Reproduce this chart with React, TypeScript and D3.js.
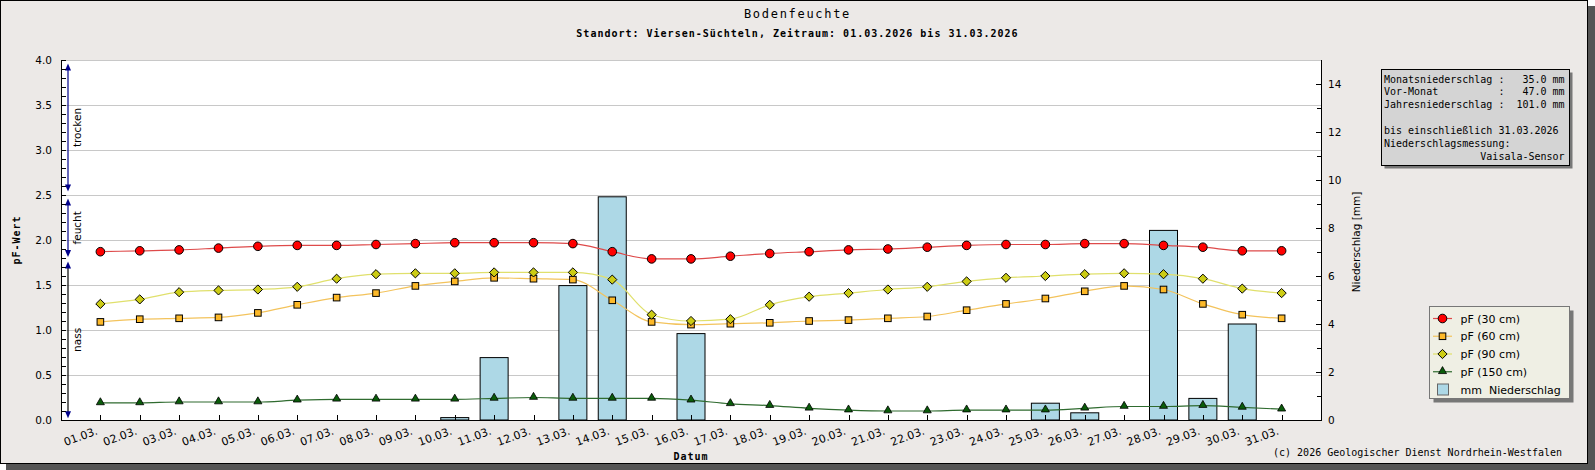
import { useMemo } from 'react'
import * as d3 from 'd3'

// Tageswerte März 2026, Standort Viersen-Süchteln
const DAYS = [
  '01.03.', '02.03.', '03.03.', '04.03.', '05.03.', '06.03.', '07.03.', '08.03.',
  '09.03.', '10.03.', '11.03.', '12.03.', '13.03.', '14.03.', '15.03.', '16.03.',
  '17.03.', '18.03.', '19.03.', '20.03.', '21.03.', '22.03.', '23.03.', '24.03.',
  '25.03.', '26.03.', '27.03.', '28.03.', '29.03.', '30.03.', '31.03.',
]

const PF_30 = [
  1.87, 1.88, 1.89, 1.91, 1.93, 1.94, 1.94, 1.95, 1.96, 1.97, 1.97, 1.97, 1.96, 1.87, 1.79, 1.79,
  1.82, 1.85, 1.87, 1.89, 1.9, 1.92, 1.94, 1.95, 1.95, 1.96, 1.96, 1.94, 1.92, 1.88, 1.88,
]
const PF_60 = [
  1.09, 1.12, 1.13, 1.14, 1.19, 1.28, 1.36, 1.41, 1.49, 1.54, 1.58, 1.57, 1.56, 1.33, 1.09, 1.06,
  1.07, 1.08, 1.1, 1.11, 1.13, 1.15, 1.22, 1.29, 1.35, 1.43, 1.49, 1.45, 1.29, 1.17, 1.13,
]
const PF_90 = [
  1.29, 1.34, 1.42, 1.44, 1.45, 1.48, 1.57, 1.62, 1.63, 1.63, 1.64, 1.64, 1.64, 1.56, 1.17, 1.1,
  1.12, 1.28, 1.37, 1.41, 1.45, 1.48, 1.54, 1.58, 1.6, 1.62, 1.63, 1.62, 1.57, 1.46, 1.41,
]
const PF_150 = [
  0.19, 0.19, 0.2, 0.2, 0.2, 0.22, 0.23, 0.23, 0.23, 0.23, 0.24, 0.25, 0.24, 0.24, 0.24, 0.22,
  0.18, 0.16, 0.13, 0.11, 0.1, 0.1, 0.11, 0.11, 0.11, 0.13, 0.15, 0.15, 0.16, 0.14, 0.12,
]
const RAIN = [
  0, 0, 0, 0, 0, 0, 0, 0, 0, 0.1, 2.6, 0, 5.6, 9.3, 0, 3.6,
  0, 0, 0, 0, 0, 0, 0, 0, 0.7, 0.3, 0, 7.9, 0.9, 4.0, 0,
]

const SERIES_NAMES = ['pF (30 cm)', 'pF (60 cm)', 'pF (90 cm)', 'pF (150 cm)']
const SERIES_VALUES = [PF_30, PF_60, PF_90, PF_150]
const RAIN_NAME = 'mm  Niederschlag'

const LEFT_TICKS = [0, 0.5, 1, 1.5, 2, 2.5, 3, 3.5, 4]
const RIGHT_TICKS = [0, 2, 4, 6, 8, 10, 12, 14]

// Bereiche am linken Rand (Pfeile)
const ZONE_NAMES = ['trocken', 'feucht', 'nass']
const ZONE_TOP = [3.96, 2.46, 1.76]
const ZONE_BOTTOM = [2.54, 1.81, 0.02]

const INFO_LINES = [
  'Monatsniederschlag :   35.0 mm',
  'Vor-Monat          :   47.0 mm',
  'Jahresniederschlag :  101.0 mm',
  '',
  'bis einschließlich 31.03.2026',
  'Niederschlagsmessung:',
  '                Vaisala-Sensor',
]

const TITLE = 'Bodenfeuchte'
const SUBTITLE = 'Standort: Viersen-Süchteln, Zeitraum: 01.03.2026 bis 31.03.2026'
const COPYRIGHT = '(c) 2026 Geologischer Dienst Nordrhein-Westfalen'

const SIZE = { width: 1595, height: 470 }
const PLOT = { left: 61, right: 1321, top: 60, bottom: 420 }

const SANS = '"DejaVu Sans", Verdana, sans-serif'
const MONO = '"DejaVu Sans Mono", monospace'

type MarkerKind = 'circle' | 'square' | 'diamond' | 'triangle'

const SERIES_STYLE: { line: string; fill: string; marker: MarkerKind }[] = [
  { line: '#de4a4a', fill: '#ff0000', marker: 'circle' },
  { line: '#f3c35c', fill: '#fdb928', marker: 'square' },
  { line: '#e0e06c', fill: '#cccc14', marker: 'diamond' },
  { line: '#2f6b2f', fill: '#0a5c0a', marker: 'triangle' },
]

const triPath = d3.symbol(d3.symbolTriangle, 28)() as string

function Marker({ x, y, kind, fill }: { x: number; y: number; kind: MarkerKind; fill: string }) {
  if (kind === 'circle') {
    return <circle cx={x} cy={y} r={4.3} fill={fill} stroke="#000" strokeWidth={1} />
  }
  if (kind === 'square') {
    return <rect x={x - 3.3} y={y - 3.3} width={6.6} height={6.6} fill={fill} stroke="#000" strokeWidth={1} />
  }
  if (kind === 'diamond') {
    const r = 4.6
    return (
      <path
        d={`M${x},${y - r}L${x + r},${y}L${x},${y + r}L${x - r},${y}Z`}
        fill={fill}
        stroke="#000"
        strokeWidth={1}
      />
    )
  }
  return <path d={triPath} transform={`translate(${x},${y - 0.5})`} fill={fill} stroke="#000" strokeWidth={0.8} />
}

export default function App() {
  const { x, yLeft, yRight, linePaths, minorLeft, minorRight } = useMemo(() => {
    const x = d3.scaleLinear().domain([0, DAYS.length + 1]).range([PLOT.left, PLOT.right])
    const yLeft = d3.scaleLinear().domain([0, 4]).range([PLOT.bottom, PLOT.top])
    const yRight = d3.scaleLinear().domain([0, 15]).range([PLOT.bottom, PLOT.top])
    const line = d3
      .line<number>()
      .x((_, i) => x(i + 1))
      .y((v) => yLeft(v))
      .curve(d3.curveMonotoneX)
    const linePaths = SERIES_VALUES.map((vals) => line(vals) as string)
    const minorLeft = d3.range(0, 41).map((d) => d / 10)
    const minorRight = d3.range(1, 15, 2)
    return { x, yLeft, yRight, linePaths, minorLeft, minorRight }
  }, [])

  const barWidth = 28
  const midX = (PLOT.left + PLOT.right) / 2
  const midY = (PLOT.top + PLOT.bottom) / 2
  const zoneX = 68

  const legend = { x: 1429.5, y: 306.5, w: 140, h: 92 }
  const info = { x: 1381.5, y: 69.5, w: 188, h: 96 }

  return (
    <svg
      width={SIZE.width}
      height={SIZE.height}
      viewBox={`0 0 ${SIZE.width} ${SIZE.height}`}
      style={{ position: 'absolute', left: 0, top: 0, display: 'block' }}
    >
      {/* Rahmen mit Schatten */}
      <rect x={6} y={6} width={SIZE.width - 6} height={SIZE.height - 6} fill="#555" />
      <rect x={0.5} y={0.5} width={1587} height={463} fill="#ece9e7" stroke="#000" />

      <text x={SIZE.width / 2} y={18} textAnchor="middle" fontFamily={MONO} fontSize={12} letterSpacing={1.7}>
        {TITLE}
      </text>
      <text
        x={SIZE.width / 2}
        y={37}
        textAnchor="middle"
        fontFamily={MONO}
        fontWeight="bold"
        fontSize={10}
        letterSpacing={1}
      >
        {SUBTITLE}
      </text>

      {/* Plotfläche */}
      <rect x={PLOT.left} y={PLOT.top} width={PLOT.right - PLOT.left} height={PLOT.bottom - PLOT.top} fill="#fff" />

      {LEFT_TICKS.filter((t) => t > 0).map((t) => (
        <line
          key={`g${t}`}
          x1={PLOT.left}
          x2={PLOT.right}
          y1={Math.round(yLeft(t)) + 0.5}
          y2={Math.round(yLeft(t)) + 0.5}
          stroke="#c8c8c8"
        />
      ))}

      {/* Niederschlagsbalken */}
      {RAIN.map((v, i) =>
        v > 0 ? (
          <rect
            key={`b${i}`}
            x={x(i + 1) - barWidth / 2}
            y={yRight(v)}
            width={barWidth}
            height={PLOT.bottom - yRight(v)}
            fill="#add8e6"
            stroke="#000"
            strokeWidth={1}
          />
        ) : null,
      )}

      {/* pF-Linien */}
      {linePaths.map((d, si) => (
        <path key={`l${si}`} d={d} fill="none" stroke={SERIES_STYLE[si].line} strokeWidth={1.2} />
      ))}
      {SERIES_VALUES.map((vals, si) =>
        vals.map((v, i) => (
          <Marker
            key={`m${si}-${i}`}
            x={x(i + 1)}
            y={yLeft(v)}
            kind={SERIES_STYLE[si].marker}
            fill={SERIES_STYLE[si].fill}
          />
        )),
      )}

      {/* Bereichspfeile */}
      {ZONE_NAMES.map((name, i) => {
        const yTop = yLeft(ZONE_TOP[i])
        const yBot = yLeft(ZONE_BOTTOM[i])
        const stroke = i === 2 ? '#000' : '#00008b'
        return (
          <g key={name}>
            <line x1={zoneX} x2={zoneX} y1={yTop + 3} y2={yBot - 3} stroke={stroke} strokeWidth={1.2} />
            <path d={`M${zoneX},${yTop}L${zoneX + 3},${yTop + 7}L${zoneX - 3},${yTop + 7}Z`} fill="#00008b" />
            <path d={`M${zoneX},${yBot}L${zoneX + 3},${yBot - 7}L${zoneX - 3},${yBot - 7}Z`} fill="#00008b" />
            <text
              transform={`translate(${zoneX + 12.5},${(yTop + yBot) / 2}) rotate(-90)`}
              textAnchor="middle"
              fontFamily={SANS}
              fontSize={10.5}
            >
              {name}
            </text>
          </g>
        )
      })}

      {/* Achsen */}
      <line x1={PLOT.left + 0.5} x2={PLOT.left + 0.5} y1={PLOT.top} y2={PLOT.bottom} stroke="#000" />
      <line x1={PLOT.right + 0.5} x2={PLOT.right + 0.5} y1={PLOT.top} y2={PLOT.bottom + 0.5} stroke="#000" />
      <line x1={PLOT.left} x2={PLOT.right + 1} y1={PLOT.bottom + 0.5} y2={PLOT.bottom + 0.5} stroke="#000" />

      {minorLeft.map((t) => (
        <line
          key={`ml${t}`}
          x1={PLOT.left}
          x2={PLOT.left + 5}
          y1={Math.round(yLeft(t)) + 0.5}
          y2={Math.round(yLeft(t)) + 0.5}
          stroke="#000"
        />
      ))}
      {LEFT_TICKS.map((t) => (
        <text
          key={`tl${t}`}
          x={52}
          y={yLeft(t)}
          dy="0.36em"
          textAnchor="end"
          fontFamily={SANS}
          fontSize={10.5}
        >
          {d3.format('.1f')(t)}
        </text>
      ))}

      {RIGHT_TICKS.map((t) => (
        <g key={`tr${t}`}>
          <line
            x1={PLOT.right - 5}
            x2={PLOT.right}
            y1={Math.round(yRight(t)) + 0.5}
            y2={Math.round(yRight(t)) + 0.5}
            stroke="#000"
          />
          <text x={PLOT.right + 7} y={yRight(t)} dy="0.36em" fontFamily={SANS} fontSize={10.5}>
            {t}
          </text>
        </g>
      ))}
      {minorRight.map((t) => (
        <line
          key={`mr${t}`}
          x1={PLOT.right - 4}
          x2={PLOT.right}
          y1={Math.round(yRight(t)) + 0.5}
          y2={Math.round(yRight(t)) + 0.5}
          stroke="#000"
        />
      ))}

      {DAYS.map((d, i) => {
        const tx = Math.round(x(i + 1)) + 0.5
        return (
          <g key={d}>
            <line x1={tx} x2={tx} y1={PLOT.bottom} y2={PLOT.bottom - 5} stroke="#000" />
            <text
              transform={`translate(${x(i + 1) - 2},${PLOT.bottom + 14}) rotate(-20)`}
              textAnchor="end"
              fontFamily={SANS}
              fontSize={11}
            >
              {d}
            </text>
          </g>
        )
      })}

      <text
        x={midX}
        y={460}
        textAnchor="middle"
        fontFamily={MONO}
        fontWeight="bold"
        fontSize={10}
        letterSpacing={1}
      >
        Datum
      </text>
      <text
        transform={`translate(19.5,${midY}) rotate(-90)`}
        textAnchor="middle"
        fontFamily={MONO}
        fontWeight="bold"
        fontSize={10}
        letterSpacing={1}
      >
        pF-Wert
      </text>
      <text
        transform={`translate(1359.5,${midY + 2}) rotate(-90)`}
        textAnchor="middle"
        fontFamily={SANS}
        fontSize={10.5}
      >
        Niederschlag [mm]
      </text>

      {/* Infobox */}
      <rect x={info.x + 3} y={info.y + 3} width={info.w} height={info.h} fill="#777" />
      <rect x={info.x} y={info.y} width={info.w} height={info.h} fill="#d4d4d4" stroke="#000" />
      {INFO_LINES.map((l, i) => (
        <text
          key={`i${i}`}
          x={1384}
          y={82.5 + i * 12.85}
          fontFamily={MONO}
          fontSize={10}
          style={{ whiteSpace: 'pre' }}
        >
          {l}
        </text>
      ))}

      {/* Legende */}
      <rect x={legend.x + 4} y={legend.y + 4} width={legend.w} height={legend.h} fill="#777" />
      <rect x={legend.x} y={legend.y} width={legend.w} height={legend.h} fill="#efefe4" stroke="#777" />
      {SERIES_NAMES.map((name, i) => {
        const cy = 318.5 + i * 17.75
        return (
          <g key={name}>
            <line x1={1433} x2={1452} y1={cy} y2={cy} stroke={SERIES_STYLE[i].line} strokeWidth={1.2} />
            <Marker x={1442.5} y={cy} kind={SERIES_STYLE[i].marker} fill={SERIES_STYLE[i].fill} />
            <text x={1460.5} y={cy + 4} fontFamily={SANS} fontSize={11}>
              {name}
            </text>
          </g>
        )
      })}
      <rect x={1437.5} y={318.5 + 4 * 17.75 - 5.5} width={11} height={11} fill="#add8e6" stroke="#666" />
      <text x={1460.5} y={318.5 + 4 * 17.75 + 4} fontFamily={SANS} fontSize={11} style={{ whiteSpace: 'pre' }}>
        {RAIN_NAME}
      </text>

      <text x={1562} y={456} textAnchor="end" fontFamily={MONO} fontSize={10}>
        {COPYRIGHT}
      </text>
    </svg>
  )
}
